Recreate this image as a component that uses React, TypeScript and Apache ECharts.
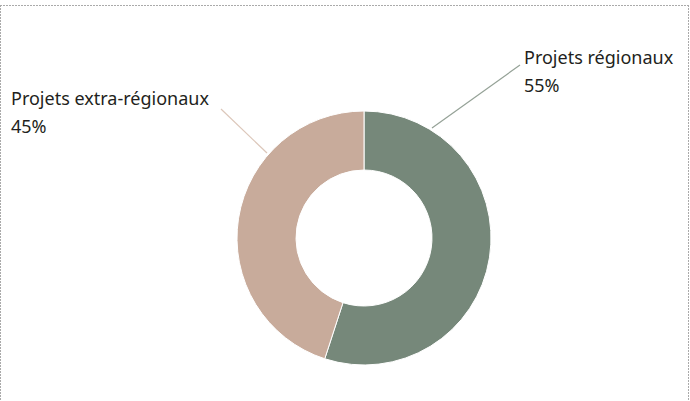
import React, { useEffect, useRef } from "react";
import * as echarts from "echarts";

const categories = ["Projets régionaux", "Projets extra-régionaux"];
const values = [55, 45];
const colors = ["#76887a", "#c8ab9b"];
const lineColors = ["#95a297", "#dcc7ba"];

export default function App() {
  const ref = useRef<HTMLDivElement>(null);
  useEffect(() => {
    document.body.style.margin = "0";
    const chart = echarts.init(ref.current!, null, { renderer: "svg" });
    const labelPos = [
      { x: 524, y: 43, pts: [[432, 128], [520, 65]] },
      { x: 11, y: 84, pts: [[267, 153], [221, 109]] },
    ];
    chart.setOption({
      animation: false,
      graphic: [
        { type: "line", shape: { x1: 0, y1: 5.5, x2: 689, y2: 5.5 }, style: { stroke: "#aaaaaa", lineWidth: 1, lineDash: [2, 1] } },
        { type: "line", shape: { x1: 0.5, y1: 5, x2: 0.5, y2: 401 }, style: { stroke: "#aaaaaa", lineWidth: 1, lineDash: [2, 1] } },
        { type: "line", shape: { x1: 688.5, y1: 5, x2: 688.5, y2: 401 }, style: { stroke: "#aaaaaa", lineWidth: 1, lineDash: [2, 1] } },
      ],
      series: [
        {
          type: "pie",
          center: [364, 238],
          radius: [68, 127],
          startAngle: 90,
          clockwise: true,
          percentPrecision: 0,
          itemStyle: { borderColor: "#ffffff", borderWidth: 1 },
          label: {
            show: true,
            formatter: "{b}\n{d}%",
            fontFamily: "Noto Sans",
            fontSize: 18,
            lineHeight: 28,
            color: "#231f20",
            overflow: "none",
            width: 300,
          },
          labelLine: { show: true, lineStyle: { width: 1.2 } },
          labelLayout: (p: any) => {
            const l = labelPos[p.dataIndex];
            return { x: l.x, y: l.y, align: "left", verticalAlign: "top", labelLinePoints: l.pts };
          },
          data: categories.map((c, i) => ({
            name: c,
            value: values[i],
            itemStyle: { color: colors[i] },
            labelLine: { lineStyle: { color: lineColors[i] } },
          })),
        },
      ],
    });
    return () => chart.dispose();
  }, []);
  return <div ref={ref} style={{ width: 690, height: 401 }} />;
}
